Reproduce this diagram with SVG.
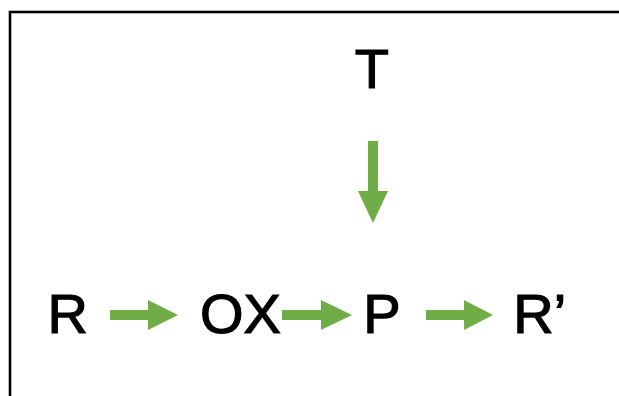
<svg xmlns="http://www.w3.org/2000/svg" width="619" height="396" viewBox="0 0 619 396">
<style>
.lbl{font-family:"Liberation Sans",Arial,sans-serif;font-size:56px;fill:#000;stroke:#000;stroke-width:1.2px}
.arr{fill:#70AD47}
</style>
<rect x="0" y="0" width="619" height="396" fill="#fff"/>
<rect x="10" y="12" width="640" height="420" fill="none" stroke="#000" stroke-width="2.6"/>
<g id="node-T"><text class="lbl" x="354.7" y="88">T</text></g>
<g id="node-R"><text class="lbl" x="47.6" y="333">R</text></g>
<g id="node-OX"><text class="lbl" x="200" y="333">OX</text></g>
<g id="node-P"><text class="lbl" x="363.3" y="333">P</text></g>
<g id="node-R2"><text class="lbl" x="513.3" y="333">R’</text></g>
<g id="connectors">
<polygon class="arr" points="368,141 378,141 378,191 388,191 373,223 358,191 368,191"/>
<polygon class="arr" points="110,310 148,310 148,300 178,315 148,330 148,320 110,320"/>
<polygon class="arr" points="282,310 321,310 321,300 352,315 321,330 321,320 282,320"/>
<polygon class="arr" points="426,310 464,310 464,300 493,315 464,330 464,320 426,320"/>
</g>
</svg>
